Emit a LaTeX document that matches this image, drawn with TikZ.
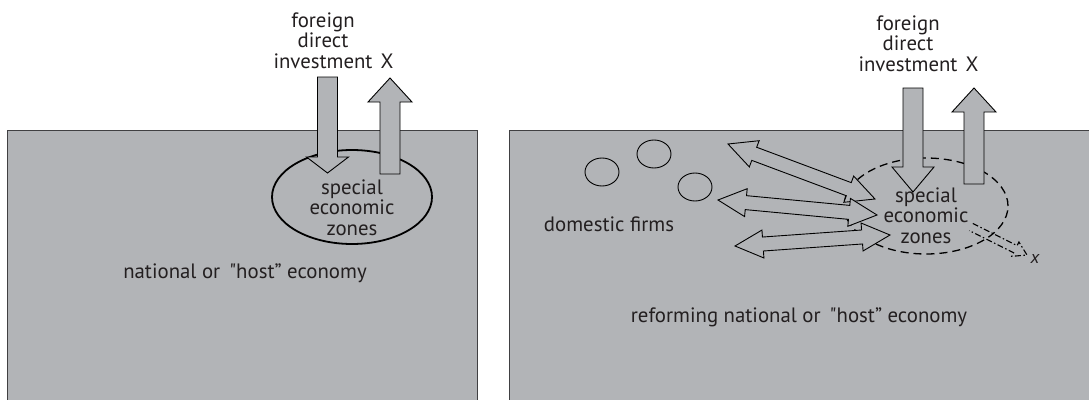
\documentclass[tikz,border=0pt]{standalone}
\usepackage{fontspec}
\setmainfont{PT Sans}
\newfontfamily\quotefont{PT Sans}[Ligatures=TeXOff]
\usetikzlibrary{shapes.geometric,calc}
\definecolor{panel}{RGB}{178,180,183}
\definecolor{edge}{RGB}{64,64,66}
\definecolor{txt}{RGB}{35,31,32}
\newcommand\sq{{\quotefont"}}
\newcommand\flowarrow[2]{%
 \draw[dbl] let \p1=($(#2)-(#1)$), \n1={atan2(\y1,\x1)}, \n2={veclen(\x1,\y1)*1pt}, \n3={(veclen(\x1,\y1)-28)*1pt} in
  ([shift={(#1)},rotate=\n1]0pt,0pt)
  -- ([shift={(#1)},rotate=\n1]28pt,14pt)
  -- ([shift={(#1)},rotate=\n1]28pt,7pt)
  -- ([shift={(#1)},rotate=\n1]\n3,7pt)
  -- ([shift={(#1)},rotate=\n1]\n3,14pt)
  -- ([shift={(#1)},rotate=\n1]\n2,0pt)
  -- ([shift={(#1)},rotate=\n1]\n3,-14pt)
  -- ([shift={(#1)},rotate=\n1]\n3,-7pt)
  -- ([shift={(#1)},rotate=\n1]28pt,-7pt)
  -- ([shift={(#1)},rotate=\n1]28pt,-14pt)
  -- cycle;}
\newcommand\leakarrow[2]{%
 \draw[leak] let \p1=($(#2)-(#1)$), \n1={atan2(\y1,\x1)}, \n2={veclen(\x1,\y1)*1pt}, \n3={(veclen(\x1,\y1)-13)*1pt} in
  ([shift={(#1)},rotate=\n1]0pt,4pt)
  -- ([shift={(#1)},rotate=\n1]\n3,4pt)
  -- ([shift={(#1)},rotate=\n1]\n3,8pt)
  -- ([shift={(#1)},rotate=\n1]\n2,0pt)
  -- ([shift={(#1)},rotate=\n1]\n3,-8pt)
  -- ([shift={(#1)},rotate=\n1]\n3,-4pt)
  -- ([shift={(#1)},rotate=\n1]0pt,-4pt);}
\begin{document}
\begin{tikzpicture}[x=1pt,y=-1pt,
  panelbox/.style={rectangle, draw=edge, fill=panel, line width=1.3pt, outer sep=0pt, inner sep=0pt, anchor=north west},
  lbl/.style={font=\fontsize{20.8pt}{20.5pt}\selectfont, text=txt, inner sep=0pt, align=center, anchor=base},
  fat/.style={draw=black, fill=panel, line width=0.9pt, line join=miter},
  dbl/.style={draw=black, fill=panel, line width=0.9pt, line join=miter},
  leak/.style={draw=black, line width=1.1pt, dash pattern=on 6pt off 2.5pt on 1.5pt off 2.5pt},
  firm/.style={ellipse, draw=black, line width=0.9pt, minimum width=34pt, minimum height=28pt, inner sep=0pt},
  zone/.style={ellipse, draw=black, inner sep=0pt}]
\useasboundingbox (0,0) rectangle (1089,399);
% panels
\node[panelbox, minimum width=470pt, minimum height=290pt] (hostL) at (7.5,130.7) {};
\node[panelbox, minimum width=600pt, minimum height=290pt] (hostR) at (509.5,130.7) {};
% domestic firms
\node[firm] (firm1) at (602,172) {};
\node[firm] (firm2) at (654,154) {};
\node[firm] (firm3) at (695,187) {};
% zones
\node[zone, line width=1.8pt, minimum width=160pt, minimum height=94pt] (zoneL) at (352,197) {};
\node[zone, line width=1.3pt, dash pattern=on 8pt off 5pt, minimum width=164pt, minimum height=96pt] (zoneR) at (926,206) {};
% flow arrows between firms and zone
\coordinate (f1a) at (728,144); \coordinate (f1b) at (875,199);
\coordinate (f2a) at (718,200); \coordinate (f2b) at (877,215);
\coordinate (f3a) at (735,246); \coordinate (f3b) at (890,235);
\flowarrow{f1a}{f1b}
\flowarrow{f2a}{f2b}
\flowarrow{f3a}{f3b}
% FDI in and X out (left)
\draw[fat] (317.5,77) -- (337.5,77) -- (337.5,157) -- (348.5,157) -- (327.5,173) -- (306.5,157) -- (317.5,157) -- cycle;
\draw[fat] (380,174) -- (380,102) -- (368,102) -- (390,78) -- (412,102) -- (400,102) -- (400,174) -- cycle;
% FDI in and X out (right)
\draw[fat] (903,88) -- (923,88) -- (923,167) -- (934,167) -- (913,192) -- (892,167) -- (903,167) -- cycle;
\draw[fat] (964,184) -- (964,112) -- (952,112) -- (974,88) -- (996,112) -- (984,112) -- (984,184) -- cycle;
% leak
\coordinate (lka) at (971,227); \coordinate (lkb) at (1027,255);
\leakarrow{lka}{lkb}
% labels (base anchor = baseline of last line)
\node[lbl] (fdiL) at (323,68) {foreign\\direct\\investment};
\node[lbl] (xL) at (387,68) {X};
\node[lbl] (fdiR) at (908,71) {foreign\\direct\\investment};
\node[lbl] (xR) at (972,71) {X};
\node[lbl] (sezLt) at (352,235) {special\\economic\\zones};
\node[lbl] (sezRt) at (926,243) {special\\economic\\zones};
\node[lbl] (natL) at (245,278) {national or\hspace{9pt}\sq host” economy};
\node[lbl] (dom) at (609,231) {domestic firms};
\node[lbl] (natR) at (799,322) {reforming national or\hspace{9pt}\sq host” economy};
\node[lbl, font=\fontsize{18pt}{18pt}\selectfont\itshape] (xout) at (1035,263) {x};
\end{tikzpicture}
\end{document}
